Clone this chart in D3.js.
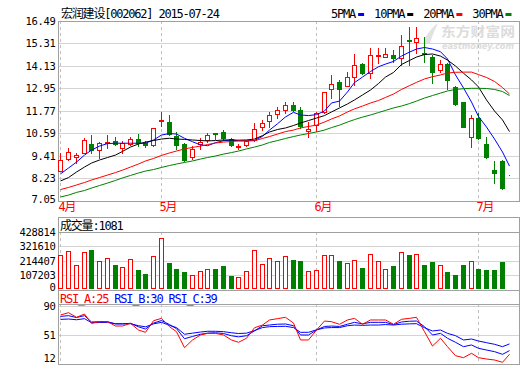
<!DOCTYPE html>
<html>
<head>
<meta charset="utf-8">
<script src="https://cdn.jsdelivr.net/npm/d3@7"></script>
<style>
body { margin: 0; background: #fff; }
svg text { font-family: "DejaVu Sans Mono", "Noto Sans CJK SC", monospace; font-size: 12px; letter-spacing: -1.2px; }
svg text.tick { font-size: 10.5px; letter-spacing: -0.32px; }
</style>
</head>
<body>
<svg id="chart" width="520" height="365"></svg>
<script>
// 宏润建设 daily k-line
const stockTitle = "宏润建设[002062] 2015-07-24";
const opens  = [8.64,9.23,9.38,9.59,10.04,9.71,10.07,10.18,9.81,10.04,10.28,10.11,9.99,11.25,11.18,10.46,10.02,9.37,10.02,10.27,10.62,10.67,10.28,9.86,9.97,10.25,10.93,11.26,11.60,11.82,12.08,11.82,10.72,11.03,11.70,12.91,13.31,13.10,13.57,14.22,13.75,14.67,14.62,14.71,14.55,15.48,15.37,14.80,14.62,13.92,14.23,13.04,12.23,10.42,11.39,10.02,8.66,9.16,8.40];
const highs  = [9.55,9.85,9.59,10.37,10.51,10.14,10.51,10.39,10.21,10.42,10.55,10.21,10.88,11.70,11.56,10.65,10.09,9.91,10.35,10.60,10.63,10.77,10.37,10.02,10.22,11.12,11.32,11.70,11.99,12.26,12.23,11.98,11.21,11.72,12.79,13.66,13.40,13.80,14.74,14.27,15.06,15.06,15.06,14.97,15.76,16.19,16.19,15.65,14.71,14.44,14.27,13.08,12.24,11.56,11.65,10.42,9.15,9.20,8.40];
const lows   = [8.60,9.20,9.04,9.55,9.57,9.33,9.84,9.99,9.58,10.01,9.95,9.87,9.96,10.97,10.51,9.76,9.15,9.24,9.76,10.17,10.30,10.25,9.93,9.78,9.95,10.22,10.77,10.93,11.39,11.68,11.77,10.86,10.42,10.72,11.66,12.43,12.05,13.08,13.13,13.71,13.48,14.27,14.60,14.36,14.18,14.18,14.80,14.34,13.22,13.80,12.92,12.08,10.93,9.90,10.30,9.32,7.98,7.68,8.40];
const closes = [9.20,9.60,9.46,10.25,9.72,10.08,10.17,10.04,10.08,10.28,10.08,10.01,10.86,11.28,10.55,9.99,9.20,9.76,10.17,10.51,10.58,10.37,9.99,9.92,10.20,10.81,11.14,11.56,11.82,12.08,11.82,10.98,10.80,11.65,12.75,13.17,12.92,13.57,14.18,13.75,14.71,14.71,14.74,14.53,15.18,15.44,15.58,14.74,13.80,14.22,13.40,12.12,10.95,11.39,10.34,9.37,8.52,7.72,8.40];
const volumes = [256000,284000,181000,276000,293000,216000,238000,181000,171000,231000,143000,113000,253000,381000,196000,150000,128000,110000,141000,150000,150000,173000,98000,90000,141000,291000,193000,238000,216000,253000,218000,211000,141000,148000,261000,261000,211000,201000,223000,160000,268000,216000,156000,173000,276000,256000,268000,181000,203000,186000,128000,105000,181000,216000,150000,143000,143000,203000,1081];

const ma5  = [8.47,8.78,9.09,9.46,9.72,9.93,10.06,10.08,10.08,10.08,10.08,10.08,10.25,10.51,10.59,10.56,10.34,10.16,9.99,9.95,10.11,10.21,10.25,10.21,10.21,10.23,10.44,10.77,11.10,11.46,11.70,11.56,11.53,11.58,11.77,12.19,12.29,12.77,13.26,13.55,13.84,14.09,14.23,14.37,14.65,14.86,15.02,15.10,15.02,14.88,14.50,13.66,12.98,12.24,11.48,10.93,10.30,9.62,8.88];
const ma10 = [8.10,8.28,8.57,8.83,9.04,9.20,9.33,9.46,9.65,9.88,10.04,10.14,10.22,10.30,10.34,10.30,10.28,10.25,10.22,10.20,10.22,10.25,10.25,10.24,10.25,10.30,10.48,10.67,10.80,10.88,11.01,11.14,11.27,11.40,11.53,11.72,11.93,12.14,12.35,12.61,12.87,13.21,13.55,13.79,14.21,14.42,14.60,14.73,14.76,14.65,14.44,14.13,13.75,13.40,13.03,12.35,11.77,11.30,10.69];
const ma20 = [7.65,7.76,7.89,8.02,8.15,8.28,8.41,8.54,8.67,8.83,8.99,9.15,9.28,9.44,9.57,9.67,9.78,9.86,9.93,10.01,10.09,10.14,10.17,10.20,10.20,10.21,10.33,10.43,10.56,10.69,10.77,10.88,10.96,11.03,11.19,11.35,11.51,11.72,11.88,12.03,12.19,12.32,12.48,12.66,12.90,13.10,13.27,13.45,13.57,13.66,13.76,13.80,13.81,13.81,13.68,13.53,13.32,13.00,12.66];
const ma30 = [7.26,7.36,7.50,7.60,7.73,7.86,7.99,8.13,8.26,8.39,8.52,8.62,8.70,8.81,8.91,8.99,9.07,9.15,9.25,9.33,9.41,9.51,9.59,9.67,9.78,9.88,9.99,10.12,10.22,10.33,10.43,10.51,10.59,10.67,10.77,10.90,11.03,11.19,11.32,11.45,11.56,11.69,11.80,11.93,12.03,12.16,12.29,12.45,12.58,12.71,12.82,12.90,12.94,12.96,12.96,12.95,12.90,12.79,12.58];

const rsiA = [77.9,81,74.8,79.2,66.7,68.9,68.9,63.1,63.1,66.7,57.7,54.6,70.2,73.4,62.2,55.4,33.9,44.3,51,53.2,53.2,51,44.3,41.2,46.6,60.8,64.4,71.2,73,74.8,67,44.3,44.3,57.7,69.8,68.9,65.4,71.2,73.4,65.4,71.2,71.2,71.2,65.4,72.1,73.4,74.8,55.4,36.2,46.6,35.3,23.2,20.5,26.4,20.5,18.7,17.4,14.3,25];
const rsiB = [76,77,74.5,77,68.5,68.9,68.9,66,66,66.7,62,59,67,70.5,65,59.5,46,49,52,53.5,54,53,50,48.5,50,56.5,63.5,64.4,65.5,65.8,63.5,51,51,57.7,62.5,63,62.5,65.5,68,66,68,68,68,65,68.5,69.5,69.8,62.2,51,53.2,46.6,41.2,35.3,37.6,33.1,30.8,28.6,25,30];
const rsiC = [72,72.5,71.5,73,67.5,67.8,68,66,66,66.2,63.5,62,66,68,64,61,52,53.5,55,56,56,55.5,54,53,53.5,57,61,62.2,62.5,62.7,61,54.6,54.6,58,60.5,61,61,63.5,64.4,64,64.4,64.4,65,64.4,65.5,66,66.2,60.8,56.4,57.7,53.2,50.1,44.3,45.6,42.9,40.7,38.5,35.3,39];

const monthLabels = ["4月", "5月", "6月", "7月"];
const monthStart  = [0, 13, 33, 54];
const priceTicks = [16.49, 15.31, 14.13, 12.95, 11.77, 10.59, 9.41, 8.23, 7.05];
const volTicks   = [428814, 321610, 214407, 107203, 0];
const rsiTicks   = [90, 51, 12];
const maNames  = ["5PMA", "10PMA", "20PMA", "30PMA"];
const maColors = ["#0000ff", "#000000", "#ff0000", "#008000"];
const rsiNames  = ["RSI_A", "RSI_B", "RSI_C"];
const rsiColors = ["#ff0000", "#0000ff", "#0000ff"];

const UP = "#ff0000", DOWN = "#008000";
const FRAME = "#a0a0a0", GRID = "#d4d4d4";

const svg = d3.select("#chart");
const n = closes.length;
const L = 58.5, R = 519.5;

const x = d3.scaleBand()
    .domain(d3.range(n))
    .range([57, 57 + 7.74 * n])
    .paddingInner(0.35)
    .paddingOuter(0.175);
const bx = i => Math.round(x(i)) + 0.5;   // body left edge (crisp)
const cx = i => bx(i) + 2;                // wick column

const yPrice = d3.scaleLinear().domain([7.05, 16.49]).range([201, 21]);
const yVol   = d3.scaleLinear().domain([0, 428814]).range([289.5, 232]);
const yRsi   = d3.scaleLinear().domain([12, 90]).range([364, 306]);
const crisp = v => Math.round(v) + 0.5;

// watermark, behind everything
svg.append("path")
    .attr("d", "M423,43 C427,34 431,28 438,23 C435,30 432,36 430,43 Z")
    .attr("fill", "#e2e2e2");
svg.append("text").attr("x", 441).attr("y", 36)
    .attr("textLength", 74).attr("lengthAdjust", "spacingAndGlyphs")
    .attr("fill", "#dcdcdc")
    .style("font-family", "'Noto Sans CJK SC'").style("font-size", "13px")
    .style("font-weight", "bold").style("letter-spacing", "0px")
    .text("东方财富网");
svg.append("text").attr("x", 442).attr("y", 49)
    .attr("textLength", 72).attr("lengthAdjust", "spacingAndGlyphs")
    .attr("fill", "#dcdcdc")
    .style("font-family", "'DejaVu Sans'").style("font-size", "8.5px")
    .style("font-weight", "bold").style("font-style", "italic").style("letter-spacing", "0px")
    .text("eastmoney.com");

function panel(top, bottom, scale, ticks, fmt, sepY, lift) {
    const g = svg.append("g");
    // horizontal grid
    g.selectAll(".grid").data(ticks).enter().append("line")
        .attr("x1", L).attr("x2", R)
        .attr("y1", d => crisp(scale(d))).attr("y2", d => crisp(scale(d)))
        .attr("stroke", GRID).attr("shape-rendering", "crispEdges");
    // month dividers
    g.selectAll(".month").data(monthStart).enter().append("line")
        .attr("x1", d => cx(d)).attr("x2", d => cx(d))
        .attr("y1", sepY !== undefined ? sepY : top).attr("y2", bottom)
        .attr("stroke", "#c0c0c0").attr("stroke-dasharray", "3,3")
        .attr("shape-rendering", "crispEdges");
    // tick labels
    g.selectAll(".lbl").data(ticks).enter().append("text")
        .attr("class", "tick")
        .attr("x", 55.5)
        .attr("y", d => Math.min(scale(d), bottom - lift))
        .attr("dy", "0.36em")
        .attr("text-anchor", "end")
        .attr("fill", "#000")
        .text(fmt);
    // frame
    g.append("rect")
        .attr("x", L).attr("y", crisp(top))
        .attr("width", R - L).attr("height", crisp(bottom) - crisp(top))
        .attr("fill", "none").attr("stroke", FRAME).attr("shape-rendering", "crispEdges");
    if (sepY !== undefined) {
        g.append("line").attr("x1", L).attr("x2", R)
            .attr("y1", crisp(sepY)).attr("y2", crisp(sepY))
            .attr("stroke", FRAME).attr("shape-rendering", "crispEdges");
    }
    return g;
}

// ---------- price panel ----------
panel(21, 201, yPrice, priceTicks.slice(1, -1), d => d.toFixed(2), undefined, 0);
svg.selectAll(".plbl").data([priceTicks[0], priceTicks[priceTicks.length - 1]]).enter()
    .append("text")
    .attr("class", "tick")
    .attr("x", 55.5).attr("y", (d, i) => i === 0 ? yPrice(d) : yPrice(d) - 2)
    .attr("dy", "0.36em").attr("text-anchor", "end")
    .text(d => d.toFixed(2));

svg.append("text").attr("x", 61).attr("y", 18).attr("fill", "#000").text(stockTitle);

// legend
let lx = 331;
maNames.forEach((name, k) => {
    const t = svg.append("text").attr("x", lx).attr("y", 18).attr("fill", "#000").text(name);
    const w = t.node().getComputedTextLength();
    svg.append("rect").attr("x", lx + w + 3).attr("y", 13).attr("width", 6).attr("height", 3)
        .attr("fill", maColors[k]);
    lx += w + 19;
});

const candles = d3.range(n).map(i => ({
    i, o: opens[i], h: highs[i], l: lows[i], c: closes[i], up: closes[i] >= opens[i]
}));

const cg = svg.append("g").attr("shape-rendering", "crispEdges");
cg.selectAll(".wick").data(candles).enter().append("line")
    .attr("x1", d => cx(d.i)).attr("x2", d => cx(d.i))
    .attr("y1", d => Math.round(yPrice(d.h))).attr("y2", d => Math.round(yPrice(d.l)) + 1)
    .attr("stroke", d => d.up ? UP : DOWN);
cg.selectAll(".body").data(candles).enter().append("rect")
    .attr("x", d => bx(d.i))
    .attr("y", d => crisp(yPrice(Math.max(d.o, d.c))))
    .attr("width", 4)
    .attr("height", d => crisp(yPrice(Math.min(d.o, d.c))) - crisp(yPrice(Math.max(d.o, d.c))))
    .attr("fill", d => d.up ? "#fff" : DOWN)
    .attr("stroke", d => d.up ? UP : DOWN);

const maLine = arr => d3.line().x((d, i) => cx(i)).y(d => yPrice(d))(arr);
[ma5, ma10, ma20, ma30].forEach((arr, k) => {
    svg.append("path").attr("d", maLine(arr))
        .attr("fill", "none").attr("stroke", maColors[k]).attr("stroke-width", 1);
});

// month labels
svg.selectAll(".mlbl").data(monthStart).enter().append("text")
    .attr("x", d => cx(d) - 2).attr("y", 211)
    .attr("fill", "#ff0000")
    .text((d, k) => monthLabels[k]);

// ---------- volume panel ----------
panel(217, 289.5, yVol, volTicks, d => d, 232, 2);
svg.append("text").attr("x", 60).attr("y", 230).attr("fill", "#000")
    .text("成交量:" + volumes[n - 1]);

svg.append("g").attr("shape-rendering", "crispEdges")
    .selectAll("rect").data(candles).enter().append("rect")
    .attr("x", d => bx(d.i))
    .attr("y", d => crisp(Math.min(yVol(volumes[d.i]), 288)))
    .attr("width", 4)
    .attr("height", d => 288.5 - crisp(Math.min(yVol(volumes[d.i]), 288)))
    .attr("fill", d => d.up ? "#fff" : DOWN)
    .attr("stroke", d => d.up ? UP : DOWN);

// ---------- RSI panel ----------
panel(289.5, 364, yRsi, rsiTicks, d => d, 304, 5.5);
let rx = 60;
[rsiA, rsiB, rsiC].forEach((arr, k) => {
    const t = svg.append("text").attr("x", rx).attr("y", 303).attr("fill", rsiColors[k])
        .text(rsiNames[k] + ":" + arr[n - 1]);
    rx += t.node().getComputedTextLength() + 6;
});
const rsiLine = arr => d3.line().x((d, i) => cx(i)).y(d => yRsi(d))(arr);
[rsiC, rsiB, rsiA].forEach((arr, k) => {
    svg.append("path").attr("d", rsiLine(arr))
        .attr("fill", "none").attr("stroke", [rsiColors[2], rsiColors[1], rsiColors[0]][k])
        .attr("stroke-width", 1);
});
</script>
</body>
</html>
